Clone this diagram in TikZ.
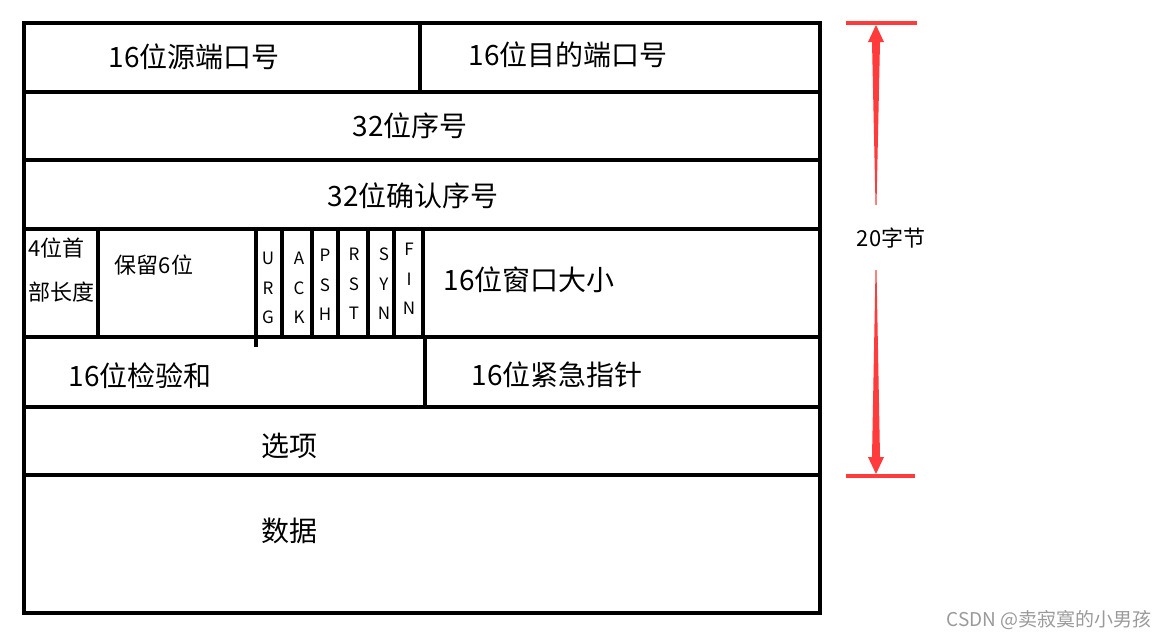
\documentclass[tikz,border=0pt]{standalone}
\usepackage{fontspec}
\newfontfamily\cjk{Noto Sans CJK SC}
\definecolor{arrowred}{HTML}{FF3B3B}
\definecolor{wmgray}{HTML}{9A9A9A}
\begin{document}
\begin{tikzpicture}[x=1pt,y=-1pt,
  frame/.style={line width=4pt,black,line cap=rect,line join=miter},
  lbl/.style={inner sep=0pt,font=\cjk\fontsize{28}{34}\selectfont},
  small/.style={inner sep=0pt,font=\cjk\fontsize{22}{44}\selectfont,align=left},
  flag/.style={inner sep=0pt,font=\cjk\fontsize{17}{29.5}\selectfont,align=center},
  dim/.style={line width=4pt,arrowred},
  wm/.style={inner sep=0pt,text=wmgray,font=\cjk\fontsize{19}{22}\selectfont}]
\useasboundingbox (0,0) rectangle (1169,640);
% table frame
\draw[frame] (24,23) rectangle (820,613);
\foreach \y in {92,160,229,337,407,475}
  \draw[frame] (24,\y) -- (820,\y);
\draw[frame] (420,23) -- (420,92);
\foreach \x in {98,282,312,338,368,394,423}
  \draw[frame] (\x,229) -- (\x,337);
\draw[frame] (256,229) -- (256,345);
\draw[frame] (425,337) -- (425,407);
% labels
\node[lbl] (src) at (194,57) {16位源端口号};
\node[lbl] (dst) at (568,55) {16位目的端口号};
\node[lbl] (seq) at (410,126) {32位序号};
\node[lbl] (ack) at (413,196) {32位确认序号};
\node[small,anchor=west] (hlen) at (28,270) {4位首\\部长度};
\node[small] (rsv) at (154,265) {保留6位};
\node[flag] (furg) at (268,288) {U\\R\\G};
\node[flag] (fack) at (299,288) {A\\C\\K};
\node[flag] (fpsh) at (325,285) {P\\S\\H};
\node[flag] (frst) at (354,284) {R\\S\\T};
\node[flag] (fsyn) at (384,284) {S\\Y\\N};
\node[flag] (ffin) at (409,279) {F\\I\\N};
\node[lbl] (win) at (529,280) {16位窗口大小};
\node[lbl] (chk) at (140,376) {16位检验和};
\node[lbl] (urgp) at (557,375) {16位紧急指针};
\node[lbl] (opt) at (289,446) {选项};
\node[lbl] (data) at (289,531) {数据};
% dimension
\coordinate (topL) at (846,23);
\coordinate (topR) at (917,23);
\coordinate (botL) at (846,476);
\coordinate (botR) at (915,476);
\draw[dim] (topL) -- (topR);
\draw[dim] (botL) -- (botR);
\node[inner sep=0pt,font=\cjk\fontsize{22}{26}\selectfont] (bytes) at (891,238) {20字节};
\fill[arrowred] (875.5,205) -- (872,42) -- (868,42) -- (876,25) -- (884,42) -- (880,42) -- (876.5,205) -- cycle;
\fill[arrowred] (876.5,270) -- (880,457) -- (884,457) -- (876,474) -- (868,457) -- (872,457) -- (875.5,270) -- cycle;
% watermark
\node[wm] (mark) at (1049,620) {CSDN @卖寂寞的小男孩};
\end{tikzpicture}
\end{document}
